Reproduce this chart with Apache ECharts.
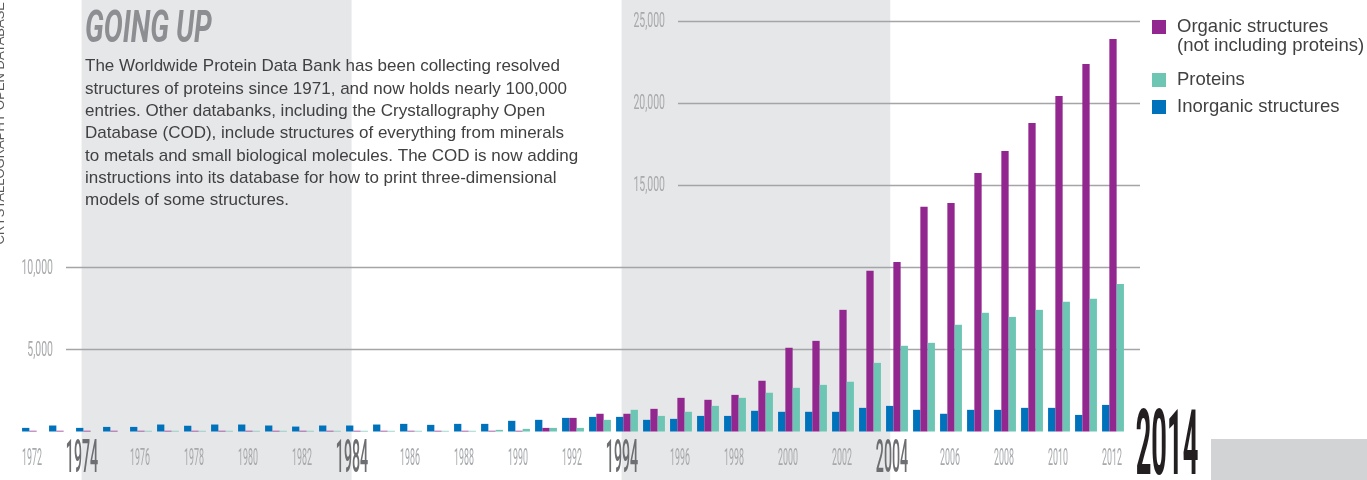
<!DOCTYPE html>
<html><head><meta charset="utf-8">
<script src="https://cdn.jsdelivr.net/npm/echarts@6/dist/echarts.min.js"></script>
<style>html,body{margin:0;padding:0;background:#fff}#chart{width:1367px;height:480px}</style>
</head><body><div id="chart"></div>
<script>
// ---------- DATA ----------
const years = ['1972','1973','1974','1975','1976','1977','1978','1979','1980','1981','1982','1983','1984','1985','1986','1987','1988','1989','1990','1991','1992','1993','1994','1995','1996','1997','1998','1999','2000','2001','2002','2003','2004','2005','2006','2007','2008','2009','2010','2011','2012','2013','2014'];
const inorganic = [220,365,220,280,280,425,350,425,425,365,300,365,365,425,465,405,465,465,650,710,830,890,890,710,770,950,950,1260,1200,1200,1200,1440,1560,1320,1080,1320,1320,1440,1440,1010,1620];
const organic = [45,45,45,45,45,45,45,45,45,45,45,45,45,45,45,45,45,45,45,220,830,1080,1080,1380,2050,1930,2230,3090,5100,5520,7410,9790,10330,13680,13910,15740,17080,18790,20430,22380,23900];
const proteins = [0,0,0,0,40,40,40,40,40,40,40,40,40,40,40,40,40,100,160,220,220,710,1320,950,1200,1560,2050,2360,2660,2840,3030,4180,5220,5400,6500,7230,6980,7410,7900,8080,8990];
const xTickLabels = ['1972','1974','1976','1978','1980','1982','1984','1986','1988','1990','1992','1994','1996','1998','2000','2002','2004','2006','2008','2010','2012','2014'];
const decadeLabels = ['1974','1984','1994','2004'];
const currentLabel = '2014';
const lowTicks = [5000, 10000];
const highTicks = [15000, 20000, 25000];
const bandRanges = [[1973.8, 1983.8], [1993.8, 2003.75]];
const seriesNames = { org: 'Organic structures (not including proteins)', pro: 'Proteins', inorg: 'Inorganic structures' };
const paragraph = [
  'The Worldwide Protein Data Bank has been collecting resolved',
  'structures of proteins since 1971, and now holds nearly 100,000',
  'entries. Other databanks, including the Crystallography Open',
  'Database (COD), include structures of everything from minerals',
  'to metals and small biological molecules. The COD is now adding',
  'instructions into its database for how to print three-dimensional',
  'models of some structures.'
];

// ---------- STYLE ----------
const C_BLUE = '#0072bc', C_PURPLE = '#92278f', C_TEAL = '#6cc6b3';
const C_GRID = '#a3a5a8', C_BAND = '#e6e7e8';
const BODY_FONT = "'Liberation Sans',Arial,sans-serif";
const fmt = v => v.toLocaleString('en-US');
const T = 'rgba(0,0,0,0)';

// condensed tick text, placed through the axis scales
function yLabelItem(params, api) {
  const v = api.value(1);
  const p = api.coord([0, v]);
  return { type: 'text', x: p[0] - 13, y: p[1] + 1, scaleX: 0.5,
    style: { text: fmt(v), fontFamily: 'Roboto', fontSize: 21, fill: '#a7a9ac', align: 'right', verticalAlign: 'middle' } };
}

const chart = echarts.init(document.getElementById('chart'));

chart.setOption({
  animation: false,
  grid: [
    { left: 19.5, right: 186.5, top: 21, bottom: 48.5 },
    { left: 66, right: 227, top: 21, bottom: 48.5 },
    { left: 678, right: 227, top: 21, bottom: 48.5 },
    { left: 19.5, right: 186.5, top: 0, bottom: 0 }
  ],
  xAxis: [
    { gridIndex: 0, type: 'category', data: years, show: false },
    { gridIndex: 1, type: 'value', min: 0, max: 1, show: false },
    { gridIndex: 2, type: 'value', min: 0, max: 1, show: false },
    { gridIndex: 3, type: 'value', min: 1971.5, max: 2014.5, show: false }
  ],
  yAxis: [
    { gridIndex: 0, type: 'value', min: 0, max: 25000, show: false },
    { gridIndex: 1, type: 'value', min: 0, max: 25000, interval: 5000, z: 1,
      axisLine: { show: false }, axisTick: { show: false }, axisLabel: { show: false },
      splitLine: { show: true, showMinLine: true, showMaxLine: true,
        lineStyle: { width: 1.3, color: [T, C_GRID, C_GRID, T, T, T] } } },
    { gridIndex: 2, type: 'value', min: 0, max: 25000, interval: 5000, z: 1,
      axisLine: { show: false }, axisTick: { show: false }, axisLabel: { show: false },
      splitLine: { show: true, showMinLine: true, showMaxLine: true,
        lineStyle: { width: 1.3, color: [T, T, T, C_GRID, C_GRID, C_GRID] } } },
    { gridIndex: 3, type: 'value', min: 0, max: 1, show: false }
  ],
  legend: [
    { data: [seriesNames.org], left: 1152, top: -1.5, orient: 'vertical', padding: 0,
      icon: 'rect', itemWidth: 14, itemHeight: 14, selectedMode: false,
      formatter: n => '\n' + n.replace(' (', '\n('),
      textStyle: { fontFamily: BODY_FONT, fontSize: 18.5, color: '#414042', lineHeight: 19, padding: [0, 0, 0, 6] } },
    { data: [seriesNames.pro, seriesNames.inorg], left: 1152, top: 70.5, orient: 'vertical', padding: 0, itemGap: 8,
      icon: 'rect', itemWidth: 14, itemHeight: 14, selectedMode: false,
      textStyle: { fontFamily: BODY_FONT, fontSize: 18.5, color: '#414042', lineHeight: 19, padding: [0, 0, 0, 6] } }
  ],
  graphic: [
    { type: 'text', x: 85, y: 31, scaleX: 0.63, z: 10,
      style: { text: 'GOING UP', fontFamily: 'Roboto', fontWeight: 'bold', fontStyle: 'italic', fontSize: 45, fill: '#8c8e91', align: 'left', verticalAlign: 'middle' } },
    { type: 'text', x: 85, y: 55.6, z: 10,
      style: { text: paragraph.join('\n'), fontFamily: BODY_FONT, fontSize: 17, lineHeight: 22.3, fill: '#414042', align: 'left', verticalAlign: 'top' } },
    { type: 'text', x: 7, y: 2, rotation: Math.PI / 2, z: 10,
      style: { text: 'CRYSTALLOGRAPHY OPEN DATABASE', fontFamily: BODY_FONT, fontSize: 13, fill: '#58595b', align: 'right', verticalAlign: 'bottom' } },
    { type: 'rect', shape: { x: 1211, y: 439, width: 156, height: 41 }, style: { fill: '#d1d3d4' }, z: 1 }
  ],
  series: [
    { type: 'line', xAxisIndex: 3, yAxisIndex: 3, data: [], z: -1, silent: true,
      markArea: { silent: true, z: -1, itemStyle: { color: C_BAND },
        data: bandRanges.map(r => [{ xAxis: r[0] }, { xAxis: r[1] }]) } },
    { name: seriesNames.inorg, type: 'bar', data: inorganic, itemStyle: { color: C_BLUE }, barGap: '0%', barCategoryGap: '19%', z: 3 },
    { name: seriesNames.org, type: 'bar', data: organic, itemStyle: { color: C_PURPLE }, barGap: '0%', barCategoryGap: '19%', z: 3 },
    { name: seriesNames.pro, type: 'bar', data: proteins, itemStyle: { color: C_TEAL }, barGap: '0%', barCategoryGap: '19%', z: 3 },
    { type: 'custom', xAxisIndex: 1, yAxisIndex: 1, silent: true, z: 4, clip: false,
      data: lowTicks.map(v => [0, v]), encode: { x: 0, y: 1 }, renderItem: yLabelItem },
    { type: 'custom', xAxisIndex: 2, yAxisIndex: 2, silent: true, z: 4, clip: false,
      data: highTicks.map(v => [0, v]), encode: { x: 0, y: 1 }, renderItem: yLabelItem },
    { type: 'custom', xAxisIndex: 0, yAxisIndex: 0, silent: true, z: 4, clip: false,
      data: xTickLabels.map(l => [l, 0]), encode: { x: 0, y: 1 },
      renderItem: function (params, api) {
        const label = xTickLabels[params.dataIndex];
        const p = api.coord([api.value(0), 0]);
        let s;
        if (label === currentLabel) s = { size: 91, weight: 'bold', color: '#231f20', sx: 0.3, dx: 0, dy: 20 };
        else if (decadeLabels.includes(label)) s = { size: 46, weight: 500, color: '#6d6e71', sx: 0.31, dx: -5, dy: 29 };
        else s = { size: 24, weight: 'normal', color: '#a7a9ac', sx: 0.37, dx: -1, dy: 27 };
        return { type: 'text', x: p[0] + s.dx, y: p[1] + s.dy, scaleX: s.sx,
          style: { text: label, fontFamily: 'Roboto', fontSize: s.size, fontWeight: s.weight, fill: s.color, align: 'center', verticalAlign: 'middle' } };
      } }
  ]
});
</script></body></html>
